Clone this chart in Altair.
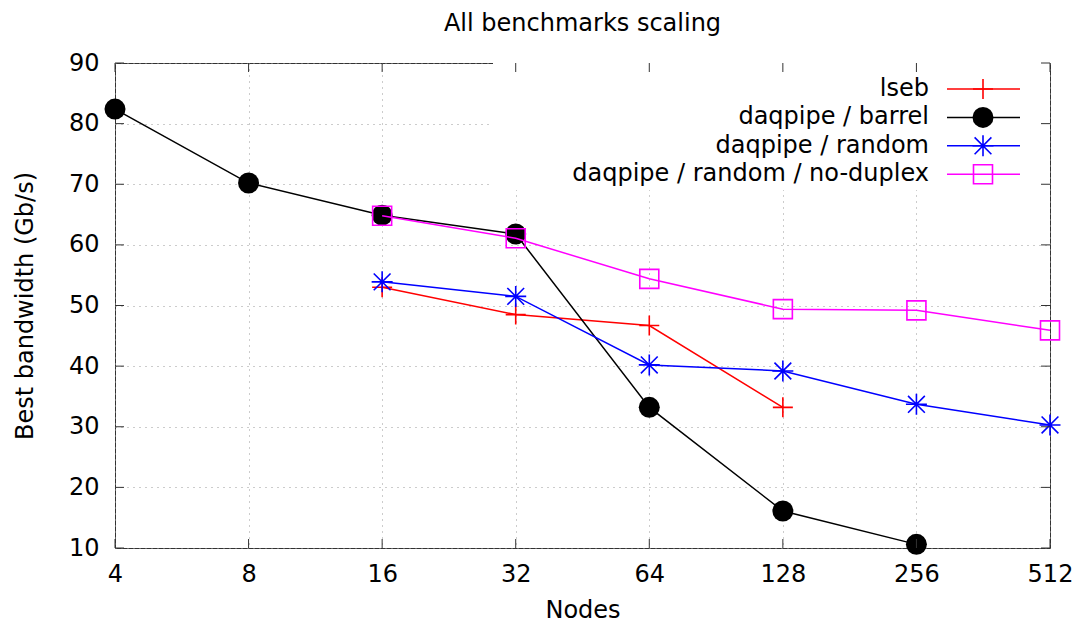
import altair as alt
import pandas as pd

FONT = "DejaVu Sans"

series_names = ["lseb", "daqpipe / barrel", "daqpipe / random", "daqpipe / random / no-duplex"]
series_colors = ["#ff0000", "#000000", "#0000ff", "#ff00ff"]

lseb_nodes = [16, 32, 64, 128]
lseb_bw = [53.0, 48.5, 46.7, 33.2]

barrel_nodes = [4, 8, 16, 32, 64, 128, 256]
barrel_bw = [82.4, 70.2, 64.9, 61.8, 33.2, 16.1, 10.6]

random_nodes = [16, 32, 64, 128, 256, 512]
random_bw = [53.9, 51.5, 40.2, 39.2, 33.7, 30.3]

noduplex_nodes = [16, 32, 64, 128, 256, 512]
noduplex_bw = [64.8, 61.1, 54.4, 49.4, 49.2, 45.9]

x_ticks = [4, 8, 16, 32, 64, 128, 256, 512]
y_ticks = [10, 20, 30, 40, 50, 60, 70, 80, 90]

W, H = 935, 485
TICK = 9

PLUS = "M-1,0H1M0,-1V1"
STAR = "M-1,0H1M0,-1V1M-0.8,-0.8L0.8,0.8M-0.8,0.8L0.8,-0.8"

styles = [
    dict(shape=PLUS, size=400, filled=False),
    dict(shape="circle", size=441, filled=True),
    dict(shape=STAR, size=441, filled=False),
    dict(shape="square", size=361, filled=False),
]

all_data = [(lseb_nodes, lseb_bw), (barrel_nodes, barrel_bw),
            (random_nodes, random_bw), (noduplex_nodes, noduplex_bw)]

xscale = alt.Scale(type="log", base=2, domain=[4, 512], nice=False)
yscale = alt.Scale(domain=[10, 90], nice=False, zero=False)

X = alt.X("nodes:Q", scale=xscale,
          axis=alt.Axis(values=x_ticks, title="Nodes", grid=True, ticks=False, domain=False,
                        labelPadding=14, titlePadding=12, labelFlush=False))
Y = alt.Y("bw:Q", scale=yscale,
          axis=alt.Axis(values=y_ticks, title="Best bandwidth (Gb/s)", grid=True, ticks=False,
                        domain=False, labelPadding=16, titlePadding=31, labelFlush=False))

layers = []
for name, color, st, (nx, ny) in zip(series_names, series_colors, styles, all_data):
    df = pd.DataFrame({"nodes": nx, "bw": ny, "series": name})
    line = alt.Chart(df).mark_line(color=color, strokeWidth=1.5).encode(x=X, y=Y)
    pts = alt.Chart(df).mark_point(
        shape=st["shape"], size=st["size"], filled=st["filled"],
        color=color, strokeWidth=1.6, opacity=1
    ).encode(x=X, y=Y)
    layers += [line, pts]

# legend backdrop (opaque key box as in gnuplot)
backdrop = alt.Chart(pd.DataFrame({"a": [0]})).mark_rect(color="white").encode(
    x=alt.value(378), x2=alt.value(W), y=alt.value(0), y2=alt.value(127))
layers.append(backdrop)

# inward tick marks on all four sides
xt = pd.DataFrame({"nodes": x_ticks})
yt = pd.DataFrame({"bw": y_ticks})
tick_color = "#333333"
layers.append(alt.Chart(xt).mark_rule(color=tick_color).encode(
    x=X, y=alt.value(H - TICK), y2=alt.value(H)))
layers.append(alt.Chart(xt).mark_rule(color=tick_color).encode(
    x=X, y=alt.value(0), y2=alt.value(TICK)))
layers.append(alt.Chart(yt).mark_rule(color=tick_color).encode(
    y=Y, x=alt.value(0), x2=alt.value(TICK)))
layers.append(alt.Chart(yt).mark_rule(color=tick_color).encode(
    y=Y, x=alt.value(W - TICK), x2=alt.value(W)))

# custom legend: label right-aligned, sample line with marker to its right
one = pd.DataFrame({"a": [0]})
for i, (name, color, st) in enumerate(zip(series_names, series_colors, styles)):
    ry = 26 + 28.4 * i
    layers.append(alt.Chart(one).mark_text(
        text=name, align="right", baseline="middle", font=FONT, fontSize=24, color="black"
    ).encode(x=alt.value(814), y=alt.value(ry)))
    layers.append(alt.Chart(one).mark_rule(color=color, strokeWidth=1.5).encode(
        x=alt.value(832), x2=alt.value(905), y=alt.value(ry)))
    layers.append(alt.Chart(one).mark_point(
        shape=st["shape"], size=st["size"], filled=st["filled"], color=color,
        strokeWidth=1.6, opacity=1
    ).encode(x=alt.value(868), y=alt.value(ry)))

chart = alt.layer(*layers).properties(
    width=W, height=H,
    background="white",
    title=alt.TitleParams("All benchmarks scaling", font=FONT, fontSize=24, fontWeight="normal",
                          color="black", anchor="middle", frame="group", offset=15),
    autosize=alt.AutoSizeParams(type="none"),
    padding={"left": 107, "top": 55, "right": 22, "bottom": 74},
).configure_view(
    stroke="#333333", strokeWidth=1
).configure_axis(
    labelFont=FONT, labelFontSize=24, labelColor="black",
    titleFont=FONT, titleFontSize=24, titleColor="black", titleFontWeight="normal",
    gridColor="#999999", gridDash=[1, 5], gridWidth=1
)

chart.save("out.html", embed_options={"renderer": "svg", "actions": False})
